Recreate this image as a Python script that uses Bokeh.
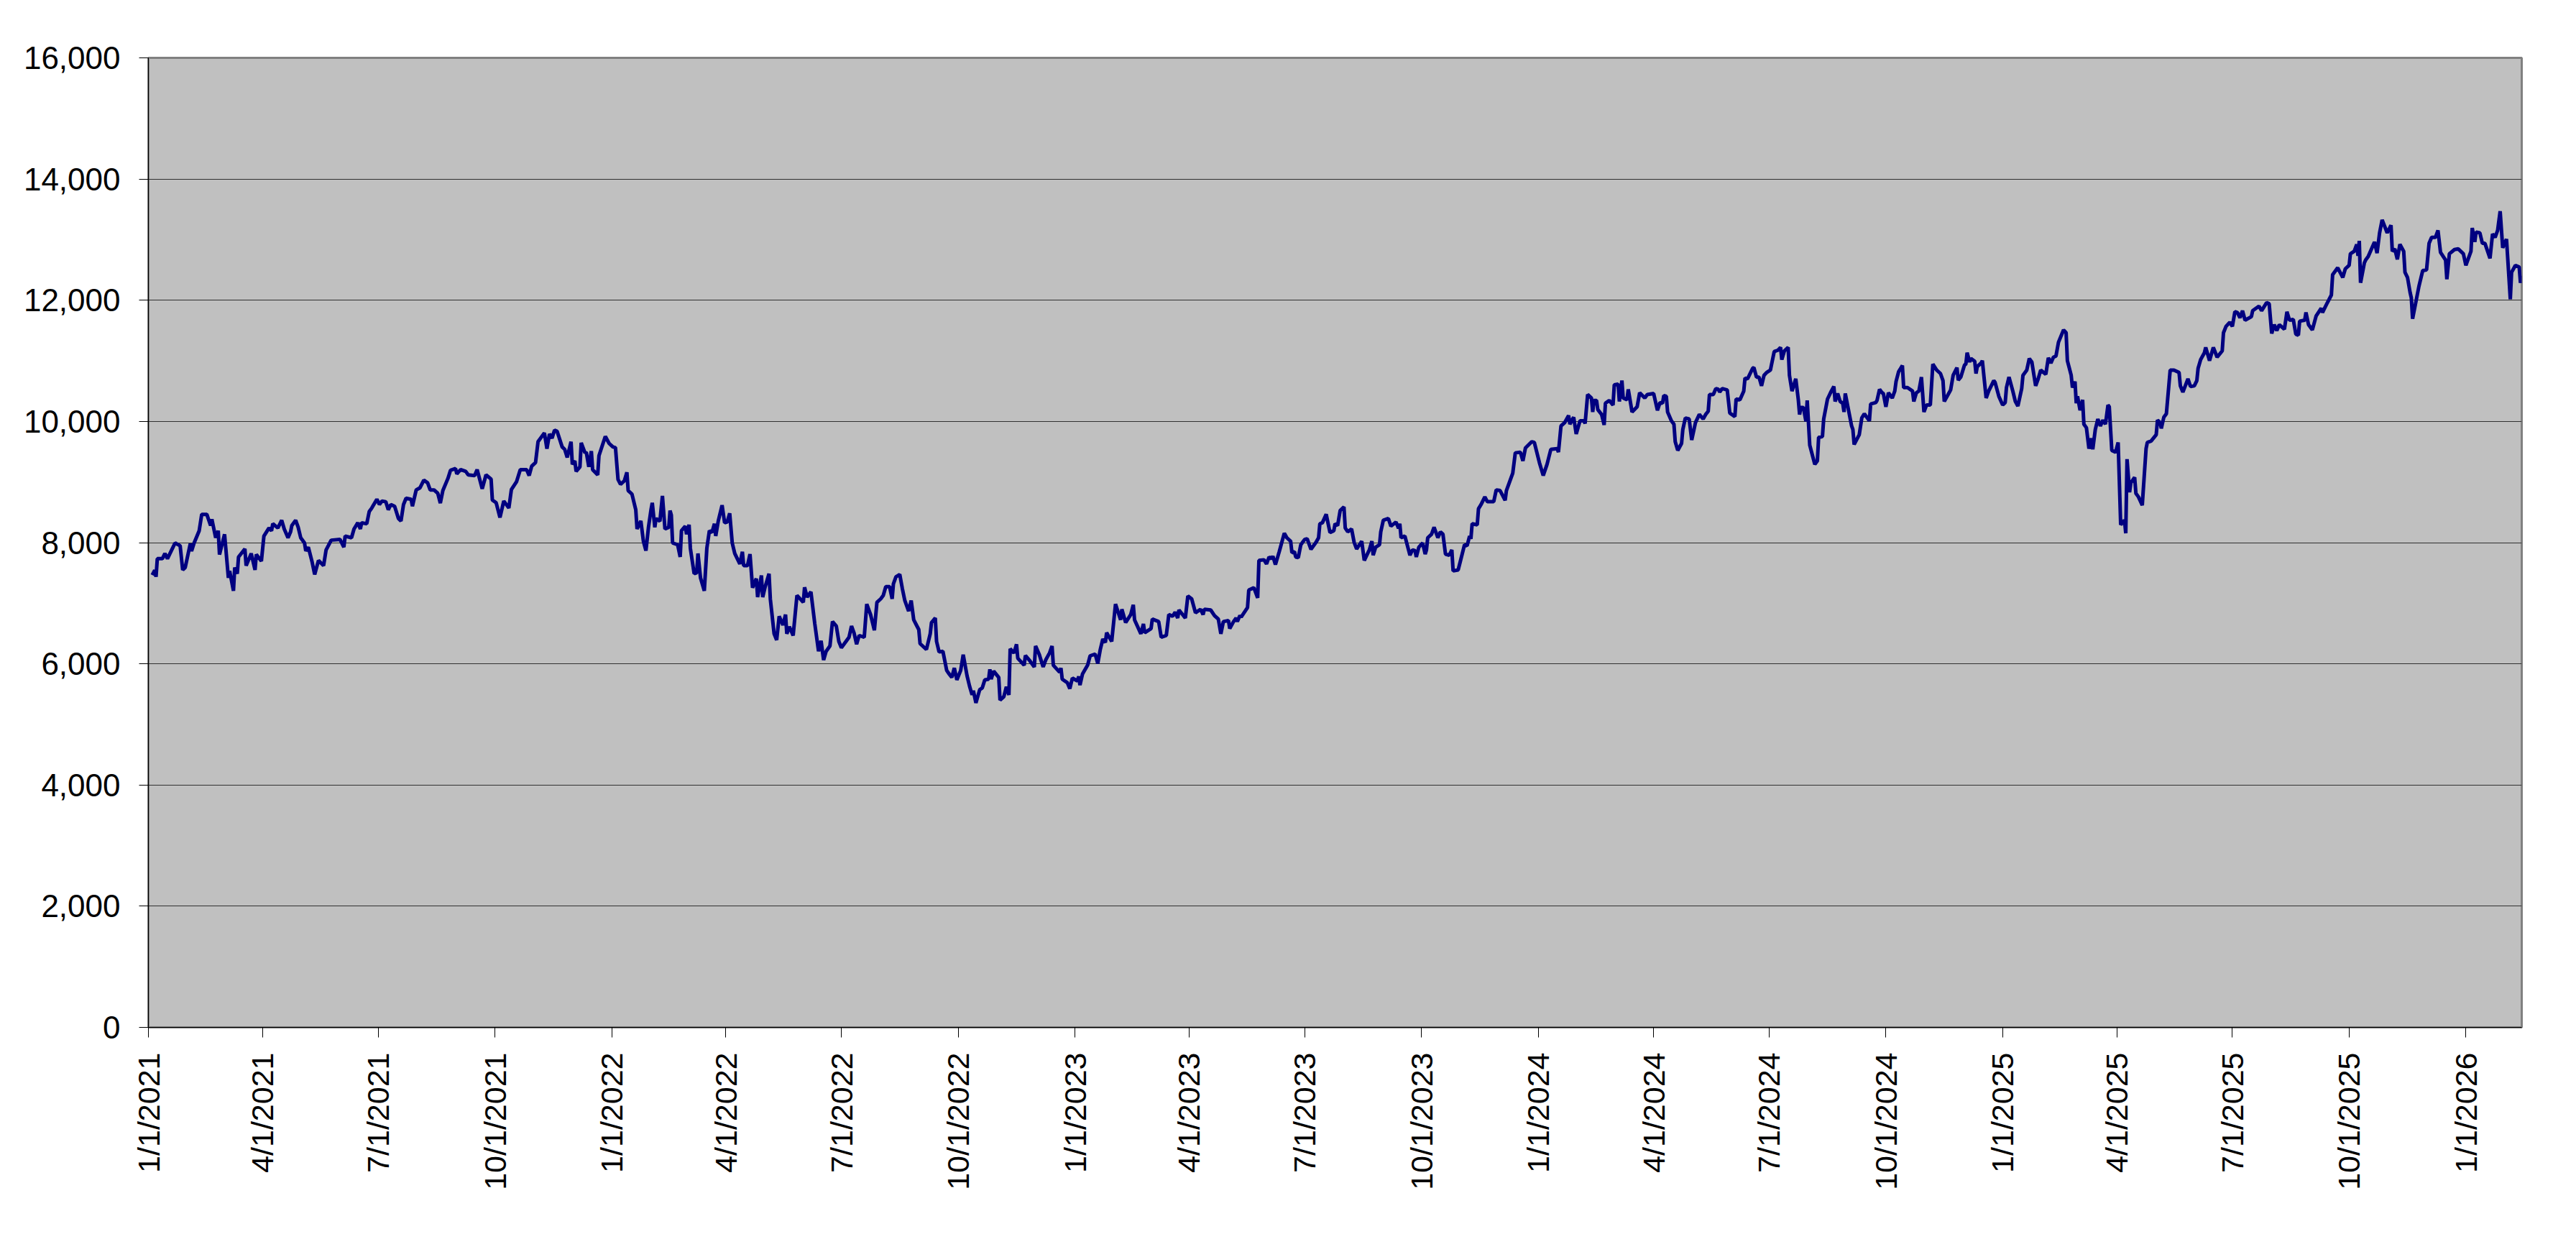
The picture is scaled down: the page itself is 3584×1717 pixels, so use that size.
import math
import pandas as pd
from bokeh.plotting import figure
from bokeh.models import Range1d, FixedTicker, NumeralTickFormatter, DatetimeTickFormatter
from bokeh.embed import file_html
from bokeh.resources import INLINE

# ---------------- data ----------------
start_date = "2021-01-01"   # day offsets below count from this date

days_2021a = [3,5,6,7,11,13,15,21,25,27,
    29,33,34,36,40,42,46,49,50,53,
    55,56,60,63,64,67,68,70,71,76,
    77,81,84,85,89,91,95,97,98,102,
    105,107,110,112,113,116,118,120,123,124,
    126,129,131,134,138,140,144,151,154,155,
    160,162,165,167,168,172,174,176,180,182,
    184,187,189,191,194,197,199,201,203,207,
    208,211,214,217,220,222,225,228,230,232,
    236,238,242,243,246,250,252,257,259,263,
    266,270,271,274,277,280,284,286,290,293,
    298,300,302,305,307,312]
vals_2021a = [7464,7545,7435,7735,7735,7821,7735,7994,7948,7550,
    7590,7983,7861,7994,8196,8467,8467,8282,8386,8080,
    8196,7804,8138,7418,7533,7204,7590,7487,7763,7896,
    7619,7821,7550,7804,7694,8109,8242,8196,8311,8242,
    8369,8225,8080,8178,8282,8369,8253,8080,7994,7861,
    7925,7677,7475,7706,7619,7879,8040,8052,7925,8109,
    8080,8225,8328,8225,8328,8311,8513,8571,8715,8629,
    8686,8675,8542,8629,8600,8398,8357,8629,8732,8715,
    8600,8870,8905,9031,8986,8870,8870,8813,8651,8859,
    9060,9193,9222,9135,9205,9176,9118,9107,9205,8887,
    9118,9049,8703,8657,8415,8686,8571,8876,9003,9205,
    9205,9107,9262,9320,9666,9810]

days_2021b = [314,316,318,320,322,326,328,330,333,334,
    336,337,340,341,344,345,347,349,350,354,
    355,360,363,366,368,370,372,375,377,378,
    381,384,385,388,390,392,394,396,397,399,
    400,403,405,407,410,411,412,413,417,419,
    420,423,424,426,427,430,432,433,435,438,
    440,442,444,446,447,449,452,454,456,458,
    460,462,466,468,469,472,474,476,479,480,
    483,484,486,489,490,493,495,497,500,502,
    503,505,508,511,516,517,519,522,525,528,
    530,532,534,537,539,542,544,546,552,554,
    556,558,560,564,566,569,572,574,577,579,
    581,584,586,587,589,592,594,596,599,601,
    603,607,608,613,616,617,620,621,623,626,
    629,631]
vals_2021b = [9550,9792,9723,9856,9839,9579,9539,9406,9666,9291,
    9349,9176,9251,9648,9481,9493,9251,9510,9205,9118,
    9435,9752,9637,9579,9568,9043,8962,9020,9159,8859,
    8801,8542,8225,8357,8023,7867,8253,8542,8657,8253,
    8398,8352,8772,8225,8253,8530,8455,7994,7965,7763,
    8196,8271,8138,8294,7908,7487,7504,7821,7418,7204,
    7908,8196,8167,8311,8109,8357,8617,8328,8340,8484,
    7994,7821,7648,7850,7619,7619,7810,7256,7406,7101,
    7458,7101,7274,7487,7072,6495,6392,6784,6640,6813,
    6495,6611,6467,7129,7014,7262,7101,7187,6669,6207,
    6380,6063,6207,6294,6697,6623,6369,6265,6438,6623,
    6507,6323,6467,6438,6986,6813,6553,7014,7072,7129,
    7274,7274,7072,7320,7435,7475,7245,7043,6870,7043,
    6726,6565,6334,6236,6495,6680,6755,6369,6196,6207,
    5890,5830]

days_2022 = [633,635,637,640,642,645,647,649,650,652,
    655,657,659,662,663,664,666,670,671,674,
    676,678,679,682,684,685,690,691,694,698,
    699,702,703,705,707,710,712,713,718,719,
    720,724,726,728,732,733,734,736,740,742,
    746,748,750,752,754,755,759,762,766,767,
    770,774,776,777,782,784,785,790,791,796,
    798,802,803,804,807,809,811,812,817,819,
    822,825,829,831,832,837,840,843,845,847,
    851,852,855,857,858,860,861,866,867,871,
    874,875,879,881,883,885,886,888,891,895,
    897,900,901,903,904,906,908,911,913,916,
    920,922,923,925,928,931,934,935,937,939,
    942,943,945]
vals_2022 = [5775,5930,5735,5890,6150,5804,5631,5487,5556,5354,
    5573,5602,5735,5746,5908,5746,5879,5775,5400,5458,
    5619,5487,6248,6178,6323,6092,5977,6138,6063,5948,
    6294,6150,6080,5948,6063,6178,6294,5977,5861,5930,
    5746,5689,5590,5764,5717,5792,5648,5833,5977,6132,
    6161,6005,6236,6409,6351,6513,6369,6986,6726,6900,
    6680,6813,6974,6726,6495,6657,6513,6582,6738,6697,
    6438,6467,6640,6813,6784,6853,6755,6888,6755,7118,
    7072,6842,6900,6813,6900,6888,6795,6738,6495,6697,
    6715,6582,6697,6755,6697,6795,6772,6928,7216,7256,
    7089,7706,7717,7648,7763,7735,7775,7637,7850,8155,
    8080,8023,7833,7850,7763,7752,7965,8052,8063,7890,
    8005,8080,8311,8328,8467,8167,8196,8311,8282,8530,
    8588,8242,8178]

days_2023 = [948,950,952,956,958,962,964,965,967,970,
    971,973,977,979,983,985,986,987,990,994,
    996,998,999,1001,1004,1006,1007,1008,1011,1013,
    1016,1018,1020,1022,1025,1027,1028,1032,1037,1039,
    1041,1042,1043,1047,1048,1050,1053,1055,1060,1062,
    1065,1069,1070,1075,1077,1081,1083,1085,1090,1092,
    1096,1099,1102,1105,1110,1111,1113,1116,1119,1120,
    1123,1125,1128,1131,1132,1134,1137,1138,1139,1141,
    1142,1145,1147,1148,1151,1154,1155,1158,1159,1161,
    1162,1165,1166,1169,1173,1175,1179,1181,1186,1189,
    1191,1193,1194,1196,1197,1200,1202,1203,1205,1208,
    1209,1211,1214,1216,1219,1222,1225,1227,1229,1230,
    1233,1235,1237,1238,1240,1244,1246,1250,1251,1254,
    1257,1258,1260,1264]
vals_2023 = [8225,8005,7896,8023,7706,7879,8023,7792,7925,7965,
    8178,8369,8398,8271,8340,8236,8311,8080,8109,7792,
    7879,7867,7763,7925,7994,7810,7879,8080,8138,8253,
    8080,8178,8138,7810,7792,7879,7533,7550,7965,7948,
    8109,8063,8311,8294,8559,8628,8755,8675,8675,8870,
    8859,8698,8859,9147,9481,9493,9349,9562,9666,9654,
    9320,9107,9291,9539,9550,9493,9925,9983,10098,9954,
    10069,9792,10011,10011,9965,10444,10386,10156,10346,10346,
    10196,10115,9942,10300,10346,10271,10605,10617,10329,10674,
    10386,10357,10530,10156,10242,10473,10386,10444,10461,10184,
    10311,10300,10427,10415,10156,10011,9954,9666,9522,9637,
    9867,10057,10040,9694,9983,10115,10040,10115,10167,10444,
    10444,10542,10530,10484,10542,10519,10138,10080,10369,10357,
    10501,10715,10703,10876]

days_2024 = [1265,1267,1269,1271,1273,1275,1278,1281,1284,1286,
    1287,1289,1292,1293,1295,1298,1300,1301,1302,1304,
    1306,1307,1309,1313,1315,1316,1319,1320,1323,1326,
    1328,1329,1331,1333,1335,1336,1337,1342,1343,1344,
    1348,1350,1352,1356,1357,1361,1362,1364,1366,1367,
    1369,1371,1374,1376,1377,1379,1382,1383,1386,1390,
    1391,1393,1395,1397,1399,1401,1404,1406,1409,1412,
    1414,1415,1418,1420,1422,1425,1426,1428,1431,1432,
    1433,1435,1436,1439,1440,1441,1444,1445,1448,1450,
    1454,1455,1458,1461,1463,1464,1466,1469,1471,1473,
    1476,1477,1480,1482,1484,1487,1489,1491,1495,1497,
    1499,1501,1503,1505,1509,1511,1512,1515,1516,1518,
    1519,1520,1522,1524,1525,1527,1529,1531,1532,1534,
    1536,1538,1540,1542,1544,1545,1547,1550,1552,1554,
    1557,1558,1559,1561,1562,1565,1566,1568,1571,1574,
    1575,1578]
vals_2024 = [10888,10732,10732,10588,10761,10807,10847,11153,11176,11222,
    11020,11164,11222,10761,10501,10703,10357,10115,10230,10230,
    10000,10346,9608,9291,9349,9735,9752,10040,10369,10501,
    10576,10329,10461,10329,10300,10156,10461,9925,9867,9620,
    9781,10057,10127,10011,10288,10311,10346,10530,10473,10461,
    10242,10473,10386,10501,10657,10818,10922,10559,10559,10501,
    10329,10473,10501,10732,10156,10271,10271,10945,10847,10790,
    10674,10329,10444,10519,10761,10888,10680,10732,10934,10945,
    11135,10980,11038,10991,10790,10905,10963,11003,10386,10501,
    10674,10646,10415,10271,10311,10559,10732,10501,10329,10254,
    10542,10761,10847,11038,10980,10588,10703,10847,10778,11049,
    10963,11060,11078,11308,11510,11464,11003,10761,10559,10657,
    10300,10415,10184,10357,9954,9896,9550,9723,9539,9867,
    10040,9925,10023,9954,10271,10242,9522,9493,9654,8294,
    8369,8155,9378,8830,8986,9078,8813,8755,8617,9550,
    9654,9677]

days_2025 = [1582,1583,1585,1586,1588,1590,1593,1596,1600,1601,
    1603,1607,1609,1612,1614,1615,1617,1620,1621,1624,
    1627,1630,1634,1635,1637,1640,1642,1644,1646,1648,
    1650,1652,1657,1658,1663,1665,1669,1671,1673,1675,
    1677,1679,1683,1685,1687,1690,1692,1694,1695,1699,
    1700,1702,1705,1708,1712,1713,1716,1720,1721,1725,
    1729,1731,1734,1735,1738,1740,1741,1742,1743,1746,
    1747,1749,1754,1756,1758,1760,1764,1767,1768,1770,
    1772,1774,1777,1778,1780,1782,1783,1784,1789,1792,
    1795,1797,1799,1802,1804,1806,1810,1811,1813,1817,
    1820,1824,1826,1830,1831,1833,1834,1837,1839,1841,
    1845,1847,1849,1851,1853,1855,1858,1861,1862,1865,
    1868,1869,1870]
vals_2025 = [9781,10023,9983,9885,10069,10127,10847,10847,10807,10588,
    10484,10703,10576,10588,10674,10876,11020,11135,11222,11003,
    11222,11060,11164,11464,11568,11637,11568,11810,11798,11712,
    11827,11671,11729,11827,11902,11827,11960,11942,11452,11596,
    11498,11596,11521,11810,11671,11683,11441,11423,11654,11671,
    11798,11596,11510,11740,11867,11798,11925,12086,12421,12536,
    12375,12519,12576,12767,12807,12922,12732,12980,12288,12617,
    12663,12720,12962,12778,13112,13326,13112,13239,12807,12847,
    12674,12922,12807,12461,12375,12132,12040,11694,12230,12490,
    12501,12939,13037,13037,13153,12790,12663,12346,12767,12836,
    12847,12767,12576,12807,13193,12962,13124,13112,12939,12939,
    12692,13095,13037,13153,13470,12865,13009,12017,12461,12576,
    12548,12288,12403]

tick_labels = ["1/1/2021", "4/1/2021", "7/1/2021", "10/1/2021",
               "1/1/2022", "4/1/2022", "7/1/2022", "10/1/2022",
               "1/1/2023", "4/1/2023", "7/1/2023", "10/1/2023",
               "1/1/2024", "4/1/2024", "7/1/2024", "10/1/2024",
               "1/1/2025", "4/1/2025", "7/1/2025", "10/1/2025",
               "1/1/2026"]
y_ticks = [0, 2000, 4000, 6000, 8000, 10000, 12000, 14000, 16000]

# ---------------- assemble ----------------
day_parts = [days_2021a, days_2021b, days_2022, days_2023, days_2024, days_2025]
val_parts = [vals_2021a, vals_2021b, vals_2022, vals_2023, vals_2024, vals_2025]
days, vals = [], []
for d, v in zip(day_parts, val_parts):
    assert len(d) == len(v), (len(d), len(v))
    days += d
    vals += v

t0 = pd.Timestamp(start_date)
dates = [t0 + pd.Timedelta(days=int(d)) for d in days]
tick_dates = [pd.to_datetime(s, format="%m/%d/%Y") for s in tick_labels]
tick_ms = [float(t.value // 10**6) for t in tick_dates]

FONT = "Liberation Sans"

p = figure(width=3568, height=1700, x_axis_type="datetime",
           x_range=Range1d(tick_dates[0], dates[-1]),
           y_range=Range1d(y_ticks[0], y_ticks[-1]),
           output_backend="svg", toolbar_location=None,
           min_border_left=206, min_border_right=60,
           min_border_top=80, min_border_bottom=271)

p.background_fill_color = "#C0C0C0"
p.border_fill_color = "white"
p.outline_line_color = "#808080"
p.outline_line_width = 3

p.line(dates, vals, line_color="#000080", line_width=5)

# x axis
xa = p.xaxis[0]
xa.ticker = FixedTicker(ticks=tick_ms, minor_ticks=[])
xa.formatter = DatetimeTickFormatter(days="%m/%d/%Y", months="%m/%d/%Y", years="%m/%d/%Y")
xa.major_label_overrides = {ms: lab for ms, lab in zip(tick_ms, tick_labels)}
xa.major_label_orientation = math.pi / 2
xa.major_label_text_font = FONT
xa.major_label_text_font_size = "43px"
xa.major_label_text_color = "black"
xa.major_label_standoff = 21
xa.major_tick_out = 14
xa.major_tick_in = 0
xa.minor_tick_out = 0
xa.minor_tick_in = 0
xa.major_tick_line_color = "black"
xa.axis_line_color = "black"
xa.axis_line_width = 1

# y axis
ya = p.yaxis[0]
ya.ticker = FixedTicker(ticks=y_ticks, minor_ticks=[])
ya.formatter = NumeralTickFormatter(format="0,0")
ya.major_label_text_font = FONT
ya.major_label_text_font_size = "44px"
ya.major_label_text_color = "black"
ya.major_label_standoff = 26
ya.major_tick_out = 13
ya.major_tick_in = 0
ya.minor_tick_out = 0
ya.minor_tick_in = 0
ya.major_tick_line_color = "black"
ya.axis_line_color = "black"
ya.axis_line_width = 1

p.xgrid.visible = False
p.ygrid.ticker = FixedTicker(ticks=y_ticks)
p.ygrid.grid_line_color = "#303030"
p.ygrid.grid_line_width = 1

open("out.html", "w").write(file_html(p, INLINE))
